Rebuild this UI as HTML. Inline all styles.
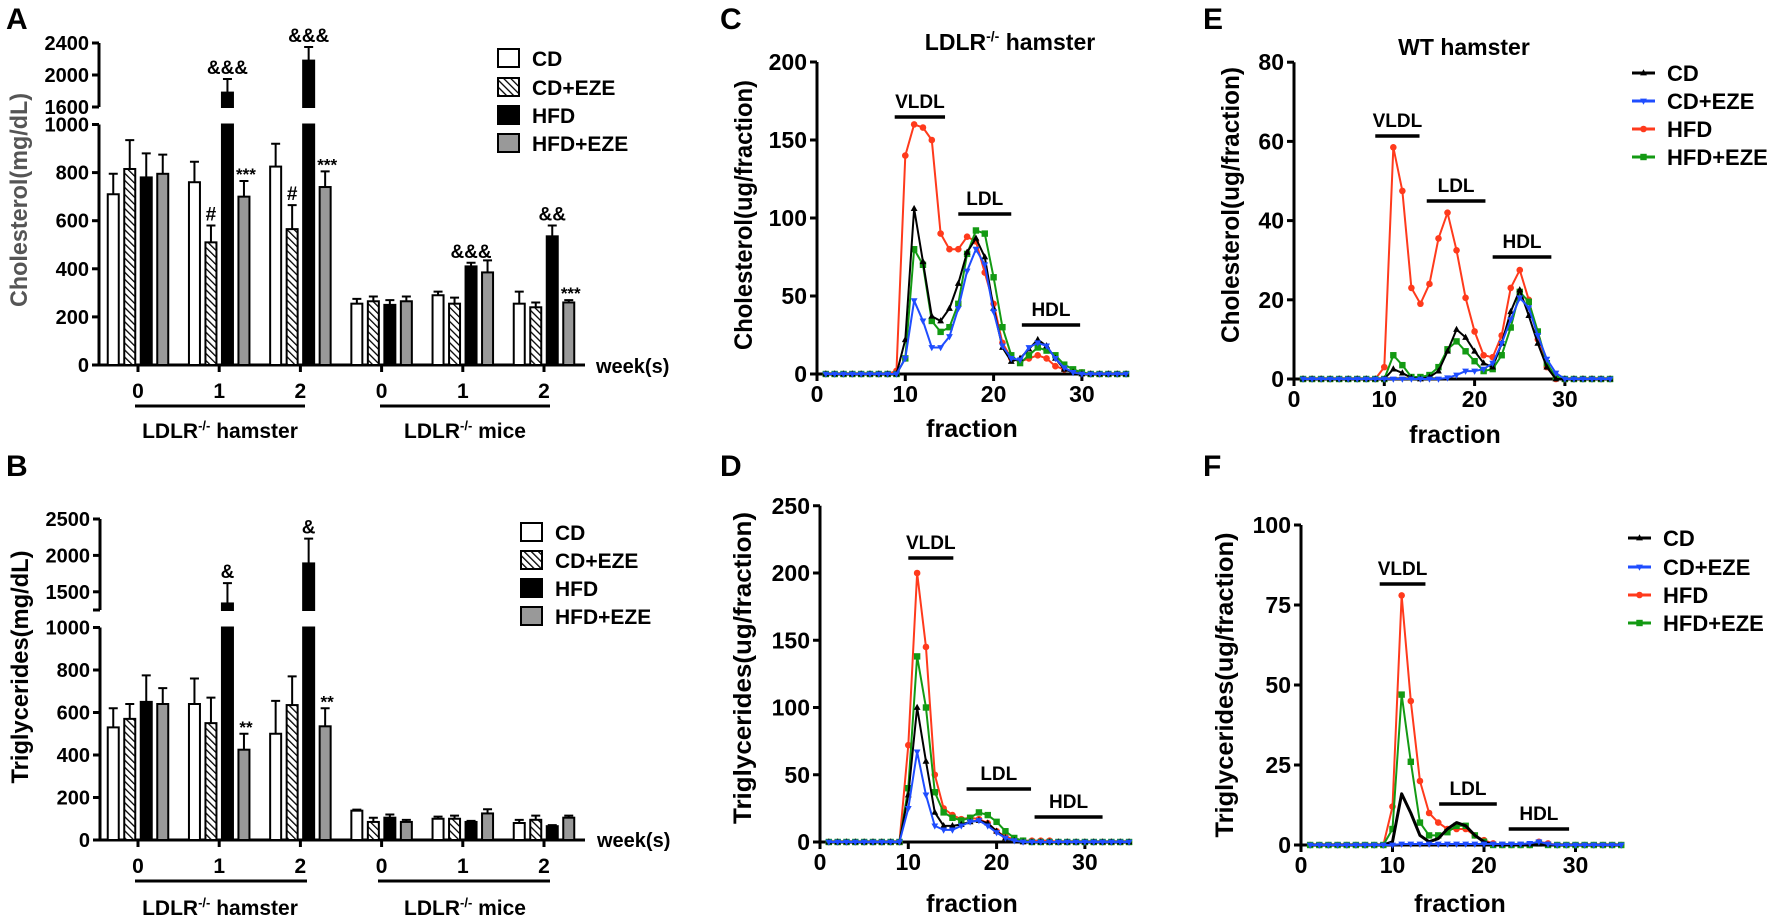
<!DOCTYPE html>
<html><head><meta charset="utf-8"><style>
html,body{margin:0;padding:0;background:#fff;}
svg{display:block;font-family:"Liberation Sans",Arial,sans-serif;font-weight:bold;}
</style></head><body>
<svg id="fig" width="1772" height="920" viewBox="0 0 1772 920" xmlns="http://www.w3.org/2000/svg">
<defs>
<pattern id="hatch" patternUnits="userSpaceOnUse" width="5" height="5" patternTransform="rotate(-45)">
<rect width="5" height="5" fill="#fff"/><line x1="0" y1="0" x2="0" y2="5" stroke="#000" stroke-width="2.6"/>
</pattern>
</defs>
<!-- panel letters -->
<text x="6" y="29" font-size="30">A</text>
<text x="6" y="476" font-size="30">B</text>
<text x="720" y="29" font-size="30">C</text>
<text x="720" y="476" font-size="30">D</text>
<text x="1203" y="29" font-size="30">E</text>
<text x="1203" y="476" font-size="30">F</text>
<!-- titles -->
<text x="1010" y="50" font-size="23" text-anchor="middle">LDLR<tspan dy="-9" font-size="14">-/-</tspan><tspan dy="9"> hamster</tspan></text>
<text x="1464" y="55" font-size="23" text-anchor="middle">WT hamster</text>
<!-- y titles -->
<text transform="translate(27,200) rotate(-90)" font-size="24" fill="#555" text-anchor="middle" textLength="214" lengthAdjust="spacingAndGlyphs">Cholesterol(mg/dL)</text>
<text transform="translate(28,667) rotate(-90)" font-size="24" text-anchor="middle" textLength="233" lengthAdjust="spacingAndGlyphs">Triglycerides(mg/dL)</text>
<text transform="translate(752,215) rotate(-90)" font-size="25" text-anchor="middle" textLength="270" lengthAdjust="spacingAndGlyphs">Cholesterol(ug/fraction)</text>
<text transform="translate(751,668) rotate(-90)" font-size="25" text-anchor="middle" textLength="312" lengthAdjust="spacingAndGlyphs">Triglycerides(ug/fraction)</text>
<text transform="translate(1239,205) rotate(-90)" font-size="25" text-anchor="middle" textLength="276" lengthAdjust="spacingAndGlyphs">Cholesterol(ug/fraction)</text>
<text transform="translate(1233,685) rotate(-90)" font-size="25" text-anchor="middle" textLength="305" lengthAdjust="spacingAndGlyphs">Triglycerides(ug/fraction)</text>
<!-- x titles -->
<text x="972" y="437" font-size="25" text-anchor="middle">fraction</text>
<text x="972" y="912" font-size="25" text-anchor="middle">fraction</text>
<text x="1455" y="443" font-size="25" text-anchor="middle">fraction</text>
<text x="1460" y="912" font-size="25" text-anchor="middle">fraction</text>
<!-- week labels -->
<text x="596" y="373" font-size="20">week(s)</text>
<text x="597" y="847" font-size="20">week(s)</text>
<!-- group labels A -->
<line x1="135" y1="406" x2="305" y2="406" stroke="#000" stroke-width="3"/>
<line x1="380" y1="406" x2="550" y2="406" stroke="#000" stroke-width="3"/>
<text x="220" y="438" font-size="21" text-anchor="middle">LDLR<tspan dy="-8" font-size="13">-/-</tspan><tspan dy="8"> hamster</tspan></text>
<text x="465" y="438" font-size="21" text-anchor="middle">LDLR<tspan dy="-8" font-size="13">-/-</tspan><tspan dy="8"> mice</tspan></text>
<line x1="135" y1="881" x2="307" y2="881" stroke="#000" stroke-width="3"/>
<line x1="378" y1="881" x2="550" y2="881" stroke="#000" stroke-width="3"/>
<text x="220" y="915" font-size="21" text-anchor="middle">LDLR<tspan dy="-8" font-size="13">-/-</tspan><tspan dy="8"> hamster</tspan></text>
<text x="465" y="915" font-size="21" text-anchor="middle">LDLR<tspan dy="-8" font-size="13">-/-</tspan><tspan dy="8"> mice</tspan></text>
<g id="plots"></g>
</svg>
<script>
// ===== Panel A data (cholesterol, mg/dL) =====
const weeks = ['0','1','2','0','1','2'];
const barSeries = ['CD','CD+EZE','HFD','HFD+EZE'];
const cholCD     = [710, 760, 825, 255, 290, 255];
const cholCDEZE  = [815, 510, 565, 265, 255, 240];
const cholHFD    = [780, 1780, 2180, 250, 410, 535];
const cholHFDEZE = [795, 700, 740, 265, 385, 260];
const cholCDErr     = [85, 85, 95, 20, 15, 50];
const cholCDEZEErr  = [120, 70, 100, 20, 25, 20];
const cholHFDErr    = [100, 170, 170, 20, 15, 45];
const cholHFDEZEErr = [80, 65, 65, 20, 50, 10];
const cholLowTicks = [0,200,400,600,800,1000];
const cholHighTicks = [1600,2000,2400];
const cholAnnot = [[1,1,'#'],[2,1,'#'],[1,2,'&&&'],[2,2,'&&&'],[4,2,'&&&'],[5,2,'&&'],[1,3,'***'],[2,3,'***'],[5,3,'***']];
// ===== Panel B data (triglycerides, mg/dL) =====
const tgCD     = [530, 640, 500, 138, 100, 80];
const tgCDEZE  = [570, 550, 635, 85, 100, 95];
const tgHFD    = [650, 1340, 1890, 105, 85, 65];
const tgHFDEZE = [640, 425, 535, 85, 125, 105];
const tgCDErr     = [90, 120, 155, 5, 10, 15];
const tgCDEZEErr  = [70, 120, 135, 20, 15, 20];
const tgHFDErr    = [125, 280, 340, 15, 5, 5];
const tgHFDEZEErr = [75, 75, 85, 10, 20, 10];
const tgLowTicks = [0,200,400,600,800,1000];
const tgHighTicks = [1500,2000,2500];
const tgAnnot = [[1,2,'&'],[2,2,'&'],[1,3,'**'],[2,3,'**']];
// ===== Panel C: LDLR-/- hamster cholesterol per fraction (fractions 1..35) =====
const fractions = Array.from({length:35},(_,i)=>i+1);
const xTicks = [0,10,20,30];
const C_CD     = [0,0,0,0,0,0,0,0,0,22,106,72,37,34,42,58,78,87,75,42,17,8,10,16,22,18,10,3,1,0,0,0,0,0,0];
const C_CDEZE  = [0,0,0,0,0,0,0,0,0,10,47,34,17,17,24,42,66,80,70,40,18,10,9,17,20,18,10,4,1,0,0,0,0,0,0];
const C_HFD    = [0,0,0,0,0,0,0,0,2,140,160,158,150,90,80,80,88,85,65,45,20,10,8,10,12,10,5,3,2,1,0,0,0,0,0];
const C_HFDEZE = [0,0,0,0,0,0,0,0,0,10,80,70,34,27,30,45,77,92,90,62,30,12,7,12,17,15,12,6,3,1,0,0,0,0,0];
const C_yTicks = [0,50,100,150,200];
// ===== Panel D: LDLR-/- hamster TG per fraction =====
const D_CD     = [0,0,0,0,0,0,0,0,0,35,100,60,22,12,12,13,15,16,14,8,3,1,0,0,0,0,0,0,0,0,0,0,0,0,0];
const D_CDEZE  = [0,0,0,0,0,0,0,0,0,25,67,35,12,9,9,12,15,16,12,7,3,1,0,0,0,0,0,0,0,0,0,0,0,0,0];
const D_HFD    = [0,0,0,0,0,0,0,0,0,72,200,145,50,25,20,17,18,17,14,8,4,2,1,1,1,1,0,0,0,0,0,0,0,0,0];
const D_HFDEZE = [0,0,0,0,0,0,0,0,0,40,138,100,37,22,18,16,18,22,20,15,8,3,1,0,0,0,0,0,0,0,0,0,0,0,0];
const D_yTicks = [0,50,100,150,200,250];
// ===== Panel E: WT hamster cholesterol per fraction =====
const E_CD     = [0,0,0,0,0,0,0,0,0,0,2.5,1.5,0.3,0,0.5,2,7,12.5,10.5,7,4,3,9,17,22.5,16,9,3,0,0,0,0,0,0,0];
const E_CDEZE  = [0,0,0,0,0,0,0,0,0,0,0,0,0,0,0,0,0.3,1,2,2,2.5,4,9,15,20.5,18,11,5,1.5,0,0,0,0,0,0];
const E_HFD    = [0,0,0,0,0,0,0,0,0,3,58.5,47.5,23,19,24,35.5,42,32.5,20.5,12,6,5.5,11,23,27.5,20,10,3,0,0,0,0,0,0,0];
const E_HFDEZE = [0,0,0,0,0,0,0,0,0,0,6,3.5,0.5,0.5,1,3,7.5,9.5,7,4.5,2,2.5,6,13,22,19.5,12,4,0.5,0,0,0,0,0,0];
const E_yTicks = [0,20,40,60,80];
// ===== Panel F: WT hamster TG per fraction =====
const F_CD     = [0,0,0,0,0,0,0,0,0,1,16,10,3,1,2,5,7,6,3,1,0,0,0,0,0,0,0,0,0,0,0,0,0,0,0];
const F_CDEZE  = [0,0,0,0,0,0,0,0,0,0,0.3,0.3,0.3,0.3,0.3,0.3,0.3,0.3,0.3,0.3,0.3,0.3,0.3,0.3,0.5,1,0.3,0,0,0,0,0,0,0,0];
const F_HFD    = [0,0,0,0,0,0,0,0,0,12,78,45,20,10,7,5,5,5,3,1.5,0.5,0,0,0,0,1,0.5,0,0,0,0,0,0,0,0];
const F_HFDEZE = [0,0,0,0,0,0,0,0,0,5,47,26,7,3,3,4,6,6,3,1,0,0,0,0,0,0.5,0,0,0,0,0,0,0,0,0];
const F_yTicks = [0,25,50,75,100];

const NS = 'http://www.w3.org/2000/svg';
const root = document.getElementById('plots');
function mk(tag, parent, attrs){
  const e = document.createElementNS(NS, tag);
  for (const k in attrs) e.setAttribute(k, attrs[k]);
  parent.appendChild(e);
  return e;
}
const COLORS = {CD:'#000000','CD+EZE':'#1f4dff',HFD:'#ff3a1c','HFD+EZE':'#139a13'};
const BARFILL = ['#ffffff','url(#hatch)','#000000','#999999'];

function barChart(o){
  const g = mk('g', root, {});
  
  
  const y = o.yScale;
  // axes
  const ax1 = mk('line', g, {x1:o.axisX, y1:y(0), x2:o.axisX, y2:y(o.lowMax), stroke:'#000','stroke-width':3});
  
  
  const ax2 = mk('line', g, {x1:o.axisX, y1:o.breakTopY, x2:o.axisX, y2:y(o.highTicks[o.highTicks.length-1]), stroke:'#000','stroke-width':3});
  
  
  const ax3 = mk('line', g, {x1:o.axisX, y1:y(0), x2:o.axisEnd, y2:y(0), stroke:'#000','stroke-width':3});
  
  
  const bt = mk('line', g, {x1:o.axisX-7, y1:o.breakTopY, x2:o.axisX, y2:o.breakTopY, stroke:'#000','stroke-width':3});
  
  
  const allTicks = o.lowTicks.concat(o.highTicks);
  allTicks.forEach(v=>{
    const t = mk('line', g, {x1:o.axisX-7, y1:y(v), x2:o.axisX, y2:y(v), stroke:'#000','stroke-width':3});
    
    
    const l = mk('text', g, {x:o.axisX-10, y:y(v)+7, 'font-size':20, 'text-anchor':'end'});
    
    
    l.textContent = v;
  });
  const gx = i => o.gx0 + i*o.gstep;
  weeks.forEach((w,i)=>{
    const t = mk('line', g, {x1:gx(i), y1:y(0), x2:gx(i), y2:y(0)+7, stroke:'#000','stroke-width':3});
    
    
    const l = mk('text', g, {x:gx(i), y:y(0)+33, 'font-size':21, 'text-anchor':'middle'});
    
    
    l.textContent = w;
  });
  const bw = 11, bs = 16.5;
  const tops = [];
  o.means.forEach((arr,s)=>{
    tops[s] = [];
    arr.forEach((v,i)=>{
      const cx = gx(i) + (s-1.5)*bs;
      const e = o.errs[s][i];
      const segs = [];
      if (v > o.lowMax){ segs.push([y(0), y(o.lowMax)]); segs.push([o.breakTopY, y(v)]); }
      else segs.push([y(0), y(v)]);
      segs.forEach(([yb,yt])=>{
        const r = mk('rect', g, {x:cx-bw/2, y:yt, width:bw, height:Math.max(0,yb-yt), fill:BARFILL[s], stroke:'#000','stroke-width':2});
        
        
      });
      const ye = y(v+e);
      const el = mk('path', g, {d:`M${cx},${y(v)}V${ye}M${cx-4.5},${ye}H${cx+4.5}`, stroke:'#000','stroke-width':2, fill:'none'});
      
      
      tops[s][i] = [cx, ye];
    });
  });
  o.annot.forEach(([i,s,txt])=>{
    const [cx,ye] = tops[s][i];
    const big = txt.indexOf('*')<0;
    const t = mk('text', g, {x:cx+(big?0:2), y:ye-(big?5:1), 'font-size':big?19:17, 'text-anchor':'middle'});
    
    
    t.textContent = txt;
  });
  // legend
  barSeries.forEach((nm,s)=>{
    const yc = o.legY[s];
    const r = mk('rect', g, {x:o.legX, y:yc-9, width:21, height:18, fill:BARFILL[s], stroke:'#000','stroke-width':2});
    
    
    const t = mk('text', g, {x:o.legX+34, y:yc+8, 'font-size':21});
    
    
    t.textContent = nm;
  });
}

barChart({name:'panel-a-cholesterol-bars', axisX:99, axisEnd:585, lowMax:1000, breakTopY:107,
  yScale: v => v<=1000 ? 365 - v*0.2405 : 107 - (v-1600)*0.08,
  lowTicks:cholLowTicks, highTicks:cholHighTicks, gx0:138, gstep:81.2,
  means:[cholCD,cholCDEZE,cholHFD,cholHFDEZE], errs:[cholCDErr,cholCDEZEErr,cholHFDErr,cholHFDEZEErr],
  annot:cholAnnot, legX:498, legY:[58,87,115,143]});
barChart({name:'panel-b-triglyceride-bars', axisX:100, axisEnd:585, lowMax:1000, breakTopY:610,
  yScale: v => v<=1000 ? 840 - v*0.2125 : 610 - (v-1250)*0.0728,
  lowTicks:tgLowTicks, highTicks:tgHighTicks, gx0:138, gstep:81.2,
  means:[tgCD,tgCDEZE,tgHFD,tgHFDEZE], errs:[tgCDErr,tgCDEZEErr,tgHFDErr,tgHFDEZEErr],
  annot:tgAnnot, legX:521, legY:[532,560,588,616]});

function marker(g, kind, x, y, color){
  let e;
  if (kind==='circle') e = mk('circle', g, {cx:x, cy:y, r:3.3, fill:color});
  else if (kind==='square') e = mk('rect', g, {x:x-3.2, y:y-3.2, width:6.4, height:6.4, fill:color});
  else if (kind==='tri') e = mk('path', g, {d:`M${x},${y-3.8}L${x+3.4},${y+2.4}L${x-3.4},${y+2.4}Z`, fill:color});
  else e = mk('path', g, {d:`M${x},${y+3.8}L${x+3.4},${y-2.4}L${x-3.4},${y-2.4}Z`, fill:color});
  return e;
}
const MK = {CD:'tri','CD+EZE':'itri',HFD:'circle','HFD+EZE':'square'};

function lineChart(o){
  const g = mk('g', root, {});
  
  
  const X = f => o.x0 + f*o.xPer;
  const Y = v => o.y0 - v*o.yPer;
  const top = o.yTicks[o.yTicks.length-1];
  const ya = mk('line', g, {x1:X(0), y1:Y(0), x2:X(0), y2:Y(top), stroke:'#000','stroke-width':3});
  
  
  const xa = mk('line', g, {x1:X(0), y1:Y(0), x2:X(35.3), y2:Y(0), stroke:'#000','stroke-width':3});
  
  
  o.yTicks.forEach(v=>{
    const t = mk('line', g, {x1:X(0)-7, y1:Y(v), x2:X(0), y2:Y(v), stroke:'#000','stroke-width':3});
    
    
    const l = mk('text', g, {x:X(0)-10, y:Y(v)+8, 'font-size':23, 'text-anchor':'end'});
    
    
    l.textContent = v;
  });
  xTicks.forEach(v=>{
    const t = mk('line', g, {x1:X(v), y1:Y(0), x2:X(v), y2:Y(0)+7, stroke:'#000','stroke-width':3});
    
    
    const l = mk('text', g, {x:X(v), y:Y(0)+28, 'font-size':23, 'text-anchor':'middle'});
    
    
    l.textContent = v;
  });
  o.bands.forEach(([lbl,f1,f2,yy])=>{
    const b = mk('line', g, {x1:X(f1), y1:yy, x2:X(f2), y2:yy, stroke:'#000','stroke-width':3.5});
    
    
    const t = mk('text', g, {x:(X(f1)+X(f2))/2, y:yy-9, 'font-size':19, 'text-anchor':'middle'});
    
    
    t.textContent = lbl;
  });
  const order = ['HFD','HFD+EZE','CD','CD+EZE'];
  order.forEach(nm=>{
    const arr = o.series[nm];
    const c = COLORS[nm];
    const d = arr.map((v,i)=>(i?'L':'M')+X(fractions[i])+','+Y(v)).join('');
    const w = (o.noMarkCD && nm==='CD') ? 3 : 2;
    const p = mk('path', g, {d:d, fill:'none', stroke:c, 'stroke-width':w, 'stroke-linejoin':'round'});
    
    
    if (!(o.noMarkCD && nm==='CD')) arr.forEach((v,i)=>{
      const m = marker(g, MK[nm], X(fractions[i]), Y(v), c);
      
      
    });
  });
  if (o.legX){
    ['CD','CD+EZE','HFD','HFD+EZE'].forEach((nm,s)=>{
      const yc = o.legY[s];
      const l = mk('line', g, {x1:o.legX, y1:yc, x2:o.legX+23, y2:yc, stroke:COLORS[nm], 'stroke-width':3});
      
      
      const m = marker(g, MK[nm], o.legX+11.5, yc, COLORS[nm]);
      
      
      const t = mk('text', g, {x:o.legX+35, y:yc+8, 'font-size':22});
      
      
      t.textContent = nm;
    });
  }
}

lineChart({name:'panel-c-cholesterol-profile', x0:817, xPer:8.83, y0:374, yPer:1.56, yTicks:C_yTicks,
  series:{'CD':C_CD,'CD+EZE':C_CDEZE,'HFD':C_HFD,'HFD+EZE':C_HFDEZE},
  bands:[['VLDL',8.8,14.5,117],['LDL',16.0,22.0,214],['HDL',23.2,29.8,325]]});
lineChart({name:'panel-d-triglyceride-profile', x0:820, xPer:8.83, y0:842, yPer:1.345, yTicks:D_yTicks,
  series:{'CD':D_CD,'CD+EZE':D_CDEZE,'HFD':D_HFD,'HFD+EZE':D_HFDEZE},
  bands:[['VLDL',10.0,15.1,558],['LDL',16.6,23.9,789],['HDL',24.3,32.0,817]]});
lineChart({name:'panel-e-wt-cholesterol-profile', x0:1294, xPer:9.03, y0:379, yPer:3.96, yTicks:E_yTicks,
  series:{'CD':E_CD,'CD+EZE':E_CDEZE,'HFD':E_HFD,'HFD+EZE':E_HFDEZE},
  bands:[['VLDL',9.0,13.9,136],['LDL',14.7,21.2,201],['HDL',22.0,28.5,257]],
  legX:1632, legY:[73,101,129,157]});
lineChart({name:'panel-f-wt-triglyceride-profile', x0:1301, xPer:9.15, y0:845, yPer:3.2, yTicks:F_yTicks,
  series:{'CD':F_CD,'CD+EZE':F_CDEZE,'HFD':F_HFD,'HFD+EZE':F_HFDEZE}, noMarkCD:true,
  bands:[['VLDL',8.6,13.6,584],['LDL',15.1,21.4,804],['HDL',22.7,29.3,829]],
  legX:1628, legY:[538,567,595,623]});
</script>
</body></html>
